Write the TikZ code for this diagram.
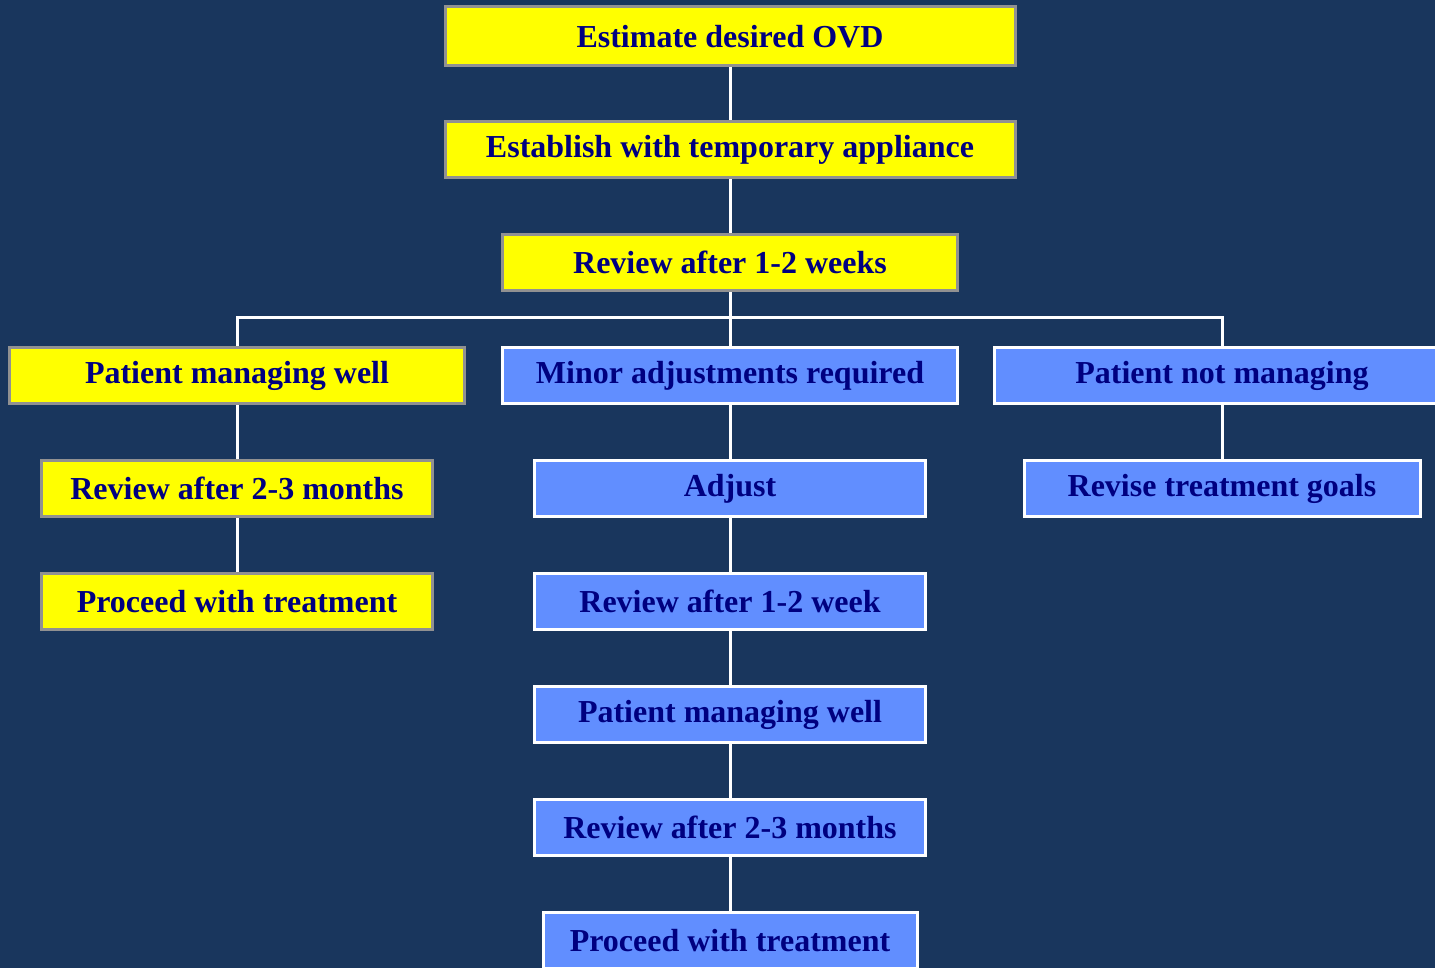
\documentclass[tikz,border=0pt]{standalone}
\usepackage{fontspec}
\setmainfont{Liberation Serif}
\usetikzlibrary{positioning}
\definecolor{navybg}{RGB}{25,54,93}
\definecolor{boxyellow}{RGB}{255,255,0}
\definecolor{boxblue}{RGB}{97,142,255}
\definecolor{textnavy}{RGB}{0,0,128}
\definecolor{rimgray}{RGB}{145,145,145}
\tikzset{
    on grid,
    node distance=56.5pt,
    flowbox/.style={rectangle, minimum height=28pt, line width=1.5pt, inner sep=0pt,
        text=textnavy, font=\fontsize{16}{19}\selectfont\bfseries},
    yellowbox/.style={flowbox, fill=boxyellow, draw=rimgray},
    bluebox/.style={flowbox, fill=boxblue, draw=white},
    link/.style={draw=white, line width=1.5pt},
}

\begin{document}
\begin{tikzpicture}[x=0.5pt,y=-0.5pt]
    \useasboundingbox (0,0) rectangle (1435,968);
    \fill[navybg] (0,0) rectangle (1435,968);
    \clip (0,0) rectangle (1435,968);

    % main trunk
        \node[yellowbox, minimum width=285pt, minimum height=29.5pt] (ovd) at (730,36.5) {Estimate desired OVD};
        \node[yellowbox, minimum width=285pt, below=of ovd] (temp) {Establish with temporary appliance};
        \node[yellowbox, minimum width=227.5pt, below=of temp] (rev12) {Review after 1-2 weeks};
        \node[bluebox, minimum width=227.5pt, below=of rev12] (minor) {Minor adjustments required};
        \coordinate (bar) at (730,318);

    % left branch
        \node[yellowbox, minimum width=227.5pt, left=246.5pt of minor] (wellA) {Patient managing well};
        \node[yellowbox, minimum width=195.5pt, below=of wellA] (rev23A) {Review after 2-3 months};
        \node[yellowbox, minimum width=195.5pt, below=of rev23A] (goA) {Proceed with treatment};

    % middle branch
        \node[bluebox, minimum width=195.5pt, below=of minor] (adj) {Adjust};
        \node[bluebox, minimum width=195.5pt, below=of adj] (rev1w) {Review after 1-2 week};
        \node[bluebox, minimum width=195.5pt, below=of rev1w] (wellB) {Patient managing well};
        \node[bluebox, minimum width=195.5pt, below=of wellB] (rev23B) {Review after 2-3 months};
        \node[bluebox, minimum width=187pt, below=of rev23B] (goB) {Proceed with treatment};

    % right branch
        \node[bluebox, minimum width=227.5pt, right=246pt of minor] (notwell) {Patient not managing};
        \node[bluebox, minimum width=198pt, below=of notwell] (revise) {Revise treatment goals};

    \path[link]
        (ovd) edge (temp)
        (temp) edge (rev12)
        (rev12) edge (minor)
        (wellA) edge (rev23A)
        (rev23A) edge (goA)
        (minor) edge (adj)
        (adj) edge (rev1w)
        (rev1w) edge (wellB)
        (wellB) edge (rev23B)
        (rev23B) edge (goB)
        (notwell) edge (revise);
    \draw[link] (wellA.north) |- (bar) -| (notwell.north);
\end{tikzpicture}
\end{document}
